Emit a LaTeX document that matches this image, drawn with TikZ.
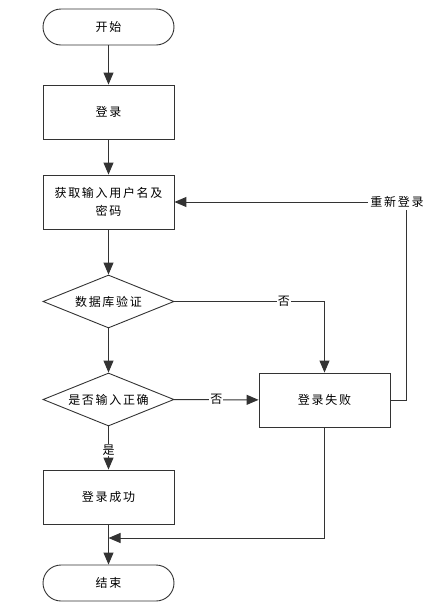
\documentclass[tikz,border=0pt]{standalone}
\usepackage{fontspec}
\setmainfont[LetterSpace=14]{Noto Sans CJK SC}
\usetikzlibrary{shapes.geometric,arrows.meta,calc}
\begin{document}
\begin{tikzpicture}[x=1pt,y=-1pt,
  line/.style={draw=black!80,line width=1pt},
  arr/.style={line,-{Triangle[length=12pt,width=10pt]}},
  txt/.style={font=\fontsize{12pt}{18pt}\selectfont},
  term/.style={txt,draw=black!80,line width=0.9pt,rounded corners=18pt,minimum width=131pt,minimum height=36pt},
  proc/.style={txt,draw=black!80,line width=0.9pt,minimum width=131pt,minimum height=54pt,align=center,text width=124pt},
  dec/.style={txt,draw=black!80,line width=0.9pt,diamond,aspect=2.47,minimum width=131pt,minimum height=53pt,inner sep=0pt},
  lab/.style={txt,fill=white,inner sep=1pt}]
\useasboundingbox (0,0) rectangle (435,611);
\node[term] (start) at (108.5,27) {开始};
\node[proc] (login) at (108.5,112) {登录};
\node[proc] (get) at (108.5,202) {获取输入用户名及\\密码};
\node[dec] (db) at (108.5,301.5) {数据库验证};
\node[dec] (chk) at (108.5,399.5) {是否输入正确};
\node[proc] (fail) at (324.5,400) {登录失败};
\node[proc] (ok) at (108.5,497) {登录成功};
\node[term] (end) at (108.5,583) {结束};
\coordinate (r1) at (406,400);
\coordinate (r2) at (406,202);
\coordinate (m1) at (324.5,538);
\coordinate (m2) at (108.5,538);
\coordinate (d1) at (324.5,301.5);
\draw[arr] (start) -- (login);
\draw[arr] (login) -- (get);
\draw[arr] (get) -- (db);
\draw[arr] (db) -- (chk);
\draw[arr] (chk) -- node[lab,pos=0.55]{是} (ok);
\draw[arr] (ok) -- (end);
\draw[arr] (chk) -- node[lab,pos=0.5]{否} (fail);
\draw[arr] (db.east) -- node[lab,pos=0.73]{否} (d1) -- (fail.north);
\draw[arr] (fail.east) -- (r1) -- (r2) -- (get.east);
\node[lab,inner sep=2pt] (relog) at (397,202) {重新登录};
\draw[arr] (fail.south) -- (m1) -- (m2);
\end{tikzpicture}
\end{document}
